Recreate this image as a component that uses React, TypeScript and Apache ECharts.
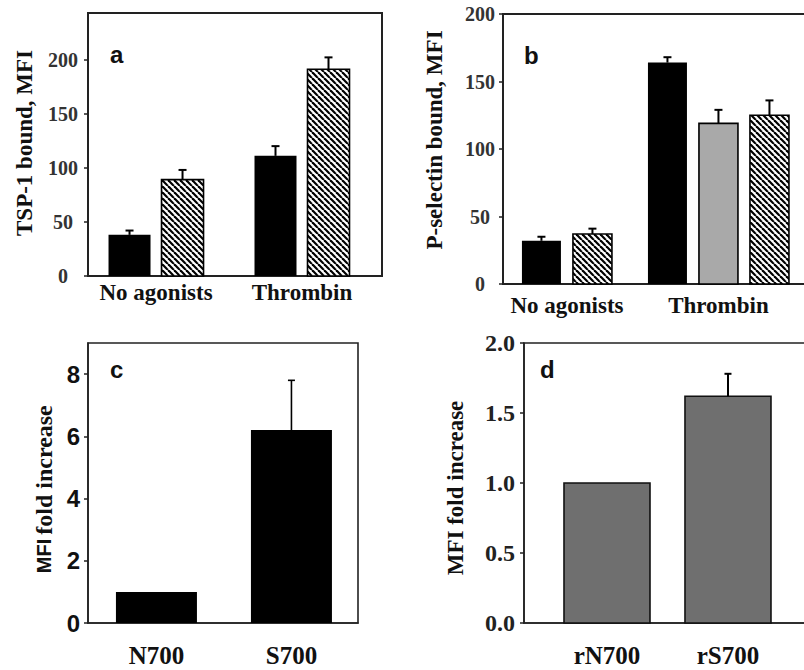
import React, { useEffect, useRef } from 'react';
import * as echarts from 'echarts';

// ---- data ----
const catsAB = ['No agonists', 'Thrombin'];
const tspBlack = [38, 111];
const tspBlackErr = [4, 9];
const tspHatched = [89, 191];
const tspHatchedErr = [9, 11];
const tspTicks = [0, 50, 100, 150, 200];

const pselBlack = [32, 164];
const pselBlackErr = [3, 4];
const pselGray: (number | null)[] = [null, 119];
const pselGrayErr: (number | null)[] = [null, 10];
const pselHatched = [37, 125];
const pselHatchedErr = [4, 11];
const pselTicks = [0, 50, 100, 150, 200];

const catsC = ['N700', 'S700'];
const foldC = [1.0, 6.2];
const foldCErr = [0, 1.6];
const ticksC = [0, 2, 4, 6, 8];

const catsD = ['rN700', 'rS700'];
const foldD = [1.0, 1.62];
const foldDErr = [0, 0.16];
const ticksD = [0, 0.5, 1, 1.5, 2];

// ---- styles ----
const SERIF = '"Liberation Serif", "Times New Roman", Times, serif';
const SANS = '"Liberation Sans", Arial, Helvetica, sans-serif';
const FRAME = '#222';

function makeHatch() {
  const p = 6;
  const c = document.createElement('canvas');
  c.width = p;
  c.height = p;
  const ctx = c.getContext('2d')!;
  ctx.fillStyle = '#fff';
  ctx.fillRect(0, 0, p, p);
  ctx.strokeStyle = '#000';
  ctx.lineWidth = 2.2;
  for (const o of [-p, 0, p]) {
    ctx.beginPath();
    ctx.moveTo(o, 0);
    ctx.lineTo(o + p, p);
    ctx.stroke();
  }
  return { image: c.toDataURL(), repeat: 'repeat', imageWidth: p, imageHeight: p };
}

type S = { values: (number | null)[]; errs: (number | null)[]; fill: any; stroke: string | null };

function panelSeries(idx: number, list: S[], barW: number, gap: number, errW: number, errLW: number) {
  return list.map((s, si) => ({
    type: 'custom',
    xAxisIndex: idx,
    yAxisIndex: idx,
    clip: false,
    silent: true,
    data: s.values
      .map((v, i) => (v == null ? null : [i, v, s.errs[i] ?? 0]))
      .filter((d) => d != null),
    renderItem: (params: any, api: any) => {
      const i = api.value(0);
      const v = api.value(1);
      const e = api.value(2);
      const present = list.map((t, ti) => (t.values[i] != null ? ti : -1)).filter((t) => t >= 0);
      const k = present.indexOf(si);
      const n = present.length;
      const base = api.coord([i, 0]);
      const yTop = api.coord([i, v])[1];
      const x = base[0] + (k - (n - 1) / 2) * (barW + gap);
      const children: any[] = [
        {
          type: 'rect',
          shape: { x: x - barW / 2, y: yTop, width: barW, height: base[1] - yTop },
          style: { fill: s.fill, stroke: s.stroke || 'none', lineWidth: s.stroke ? 1.6 : 0 },
        },
      ];
      if (e > 0) {
        const yE = api.coord([i, v + e])[1];
        children.push({
          type: 'line',
          shape: { x1: x, y1: yTop, x2: x, y2: yE },
          style: { stroke: '#000', lineWidth: errLW },
        });
        children.push({
          type: 'line',
          shape: { x1: x - errW / 2, y1: yE, x2: x + errW / 2, y2: yE },
          style: { stroke: '#000', lineWidth: errLW },
        });
      }
      return { type: 'group', children };
    },
  }));
}

function xAxisCfg(idx: number, cats: string[], min: number, max: number, margin: number, size: number, lw: number) {
  return {
    gridIndex: idx,
    type: 'value',
    min,
    max,
    splitLine: { show: false },
    axisTick: { show: false },
    axisLine: { show: true, onZero: false, lineStyle: { color: FRAME, width: lw } },
    axisLabel: {
      customValues: [0, 1],
      formatter: (v: number) => (Number.isInteger(v) && cats[v] ? cats[v] : ''),
      margin,
      fontFamily: SERIF,
      fontWeight: 'bold',
      fontSize: size,
      color: '#111',
    },
  };
}

function yAxisCfg(
  idx: number,
  max: number,
  interval: number,
  ticks: number[],
  label: any,
  lw: number,
  fmt?: (v: number) => string
) {
  return {
    gridIndex: idx,
    type: 'value',
    min: 0,
    max,
    interval,
    splitLine: { show: false },
    axisLine: { show: true, onZero: false, lineStyle: { color: FRAME, width: lw } },
    axisTick: { show: true, length: 4, customValues: ticks, lineStyle: { color: FRAME, width: 1.5 } },
    axisLabel: {
      customValues: ticks,
      formatter: (v: number) => (ticks.indexOf(v) >= 0 ? (fmt ? fmt(v) : String(v)) : ''),
      ...label,
    },
  };
}

function vText(text: string, x: number, y: number, font: string) {
  return {
    type: 'text',
    x,
    y,
    rotation: Math.PI / 2,
    style: { text, font, fill: '#111', align: 'center', verticalAlign: 'middle' },
  };
}

export default function App() {
  const ref = useRef<HTMLDivElement>(null);
  useEffect(() => {
    if (!ref.current) return;
    const chart = echarts.init(ref.current, undefined, { renderer: 'svg' });
    const hatch = makeHatch();

    const seriesA = panelSeries(
      0,
      [
        { values: tspBlack, errs: tspBlackErr, fill: '#000', stroke: null },
        { values: tspHatched, errs: tspHatchedErr, fill: hatch, stroke: '#000' },
      ],
      42,
      11,
      8,
      2
    );
    const seriesB = panelSeries(
      1,
      [
        { values: pselBlack, errs: pselBlackErr, fill: '#000', stroke: null },
        { values: pselGray, errs: pselGrayErr, fill: '#a9a9a9', stroke: '#000' },
        { values: pselHatched, errs: pselHatchedErr, fill: hatch, stroke: '#000' },
      ],
      39,
      12,
      8,
      2
    );
    const seriesC = panelSeries(2, [{ values: foldC, errs: foldCErr, fill: '#000', stroke: null }], 81, 0, 7, 1.6);
    const seriesD = panelSeries(3, [{ values: foldD, errs: foldDErr, fill: '#6f6f6f', stroke: '#111' }], 86, 0, 7, 2);

    const tickSerif20 = { align: 'center', fontFamily: SERIF, fontWeight: 'bold', fontSize: 20, color: '#333' };

    chart.setOption({
      animation: false,
      backgroundColor: '#fff',
      grid: [
        { left: 88, top: 13, width: 294, height: 263, show: true, borderColor: FRAME, borderWidth: 2, outerBoundsMode: 'none' },
        { left: 503, top: 14, width: 310, height: 270, show: true, borderColor: FRAME, borderWidth: 2, outerBoundsMode: 'none' },
        { left: 88, top: 343, width: 270, height: 280, show: true, borderColor: FRAME, borderWidth: 1.6, outerBoundsMode: 'none' },
        { left: 524, top: 343, width: 290, height: 280, show: true, borderColor: FRAME, borderWidth: 1.6, outerBoundsMode: 'none' },
      ],
      xAxis: [
        xAxisCfg(0, catsAB, -0.466, 1.548, 5, 23, 2),
        xAxisCfg(1, catsAB, -0.422, 1.624, 10, 23, 2),
        xAxisCfg(2, catsC, -0.507, 1.493, 20, 25, 1.6),
        xAxisCfg(3, catsD, -0.686, 1.711, 20, 25, 1.6),
      ],
      yAxis: [
        yAxisCfg(0, 243, 50, tspTicks, { ...tickSerif20, margin: 25 }, 2),
        yAxisCfg(1, 200, 50, pselTicks, { ...tickSerif20, margin: 23 }, 2),
        yAxisCfg(2, 9, 2, ticksC, { fontFamily: SANS, fontWeight: 'bold', fontSize: 24, color: '#111', margin: 8 }, 1.6),
        yAxisCfg(
          3,
          2,
          0.5,
          ticksD,
          { fontFamily: SERIF, fontWeight: 'bold', fontSize: 24, color: '#222', margin: 9 },
          1.6,
          (v) => v.toFixed(1)
        ),
      ],
      series: [...seriesA, ...seriesB, ...seriesC, ...seriesD],
      graphic: [
        { type: 'text', x: 110, y: 54, style: { text: 'a', font: `bold 24px ${SANS}`, fill: '#111', align: 'left', verticalAlign: 'middle' } },
        { type: 'text', x: 524, y: 55, style: { text: 'b', font: `bold 24px ${SANS}`, fill: '#111', align: 'left', verticalAlign: 'middle' } },
        { type: 'text', x: 110, y: 369, style: { text: 'c', font: `bold 24px ${SANS}`, fill: '#111', align: 'left', verticalAlign: 'middle' } },
        { type: 'text', x: 540, y: 369, style: { text: 'd', font: `bold 24px ${SANS}`, fill: '#111', align: 'left', verticalAlign: 'middle' } },
        vText('TSP-1 bound, MFI', 24, 143, `bold 23px ${SERIF}`),
        vText('P-selectin bound, MFI', 434, 140, `bold 23px ${SERIF}`),
        vText('MFI', 44, 556, `bold 20px ${SANS}`),
        vText('fold increase', 44, 470, `bold 24px ${SERIF}`),
        vText('MFI fold increase', 455, 488, `bold 23px ${SERIF}`),
      ],
    });
    return () => chart.dispose();
  }, []);
  return (
    <div
      ref={ref}
      style={{ position: 'absolute', left: 0, top: 0, width: 804, height: 670, overflow: 'hidden' }}
    />
  );
}
